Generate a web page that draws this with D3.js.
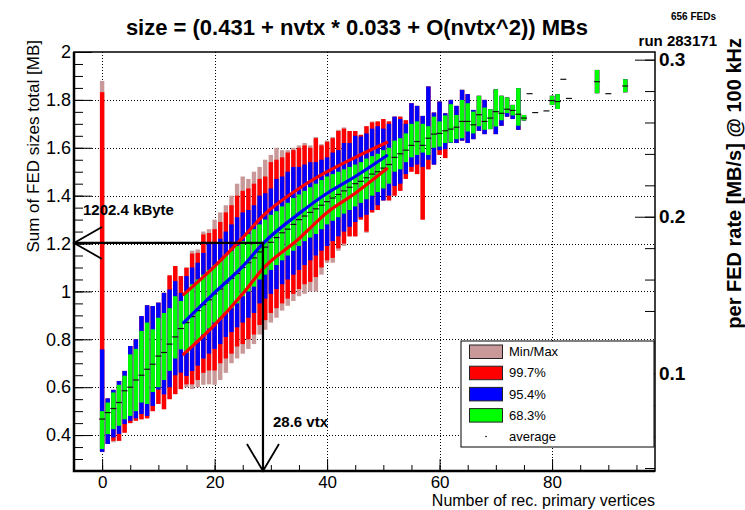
<!DOCTYPE html>
<html>
<head>
<meta charset="utf-8">
<script src="https://cdn.jsdelivr.net/npm/d3@7"></script>
<style>
  body { margin: 0; background: #fff; }
  svg { display: block; font-family: "Liberation Sans", Arial, sans-serif; }
</style>
</head>
<body>
<svg></svg>
<script>
const width = 745;
const height = 510;
const svg = d3.select("svg").attr("width", width).attr("height", height);

// number of reconstructed primary vertices (one candle per bin)
const nvtx = [0, 1, 2, 3, 4, 5, 6, 7, 8, 9, 10, 11, 12, 13, 14, 15, 16, 17, 18, 19,
  20, 21, 22, 23, 24, 25, 26, 27, 28, 29, 30, 31, 32, 33, 34, 35, 36, 37, 38, 39,
  40, 41, 42, 43, 44, 45, 46, 47, 48, 49, 50, 51, 52, 53, 54, 55, 56, 57, 58, 59,
  60, 61, 62, 63, 64, 65, 66, 67, 68, 69, 70, 71, 72, 73, 74, 75, 76, 77, 78, 79,
  80, 81, 82, 83, 84, 85, 86, 87, 88, 89, 90, 91, 92, 93];

// total size [MB] per bin : min/max, 99.7%, 95.4%, 68.3% bands and average
const sizeMin = [0.33, 0.363, 0.37, 0.375, 0.41, 0.45, 0.46, 0.466, 0.47, 0.50, 0.53, 0.508, 0.55, 0.571, 0.592, 0.60, 0.592, 0.60, 0.61, 0.612,
  0.61, 0.63, 0.66, 0.70, 0.72, 0.74, 0.76, 0.78, 0.82, 0.84, 0.87, 0.89, 0.92, 0.94, 0.96, 0.98, 0.99, 1.00, 1.00, 1.07,
  1.12, 1.12, 1.17, 1.19, 1.23, 1.23, 1.30, 1.245, 1.33, 1.34, 1.38, 1.38, 1.40, 1.42, 1.47, 1.50, 1.49, 1.30, 1.51, 1.53,
  1.57, 1.557, 1.62, 1.62, 1.63, 1.62, 1.636, 1.671, 1.657, 1.678, 1.657, 1.692, 1.73, 1.72, 1.675, 1.714, 1.826, 1.747, null, 1.754,
  1.779, 1.762, 1.886, 1.806, null, null, null, null, 1.828, null, 1.826, null, null, 1.832];
const size997Lo = [0.33, 0.363, 0.376, 0.376, 0.41, 0.45, 0.46, 0.466, 0.47, 0.50, 0.53, 0.508, 0.55, 0.571, 0.592, 0.612, 0.612, 0.63, 0.66, 0.67,
  0.67, 0.70, 0.72, 0.74, 0.77, 0.78, 0.80, 0.82, 0.86, 0.88, 0.91, 0.93, 0.95, 0.97, 0.99, 1.01, 1.03, 1.04, 1.06, 1.10,
  1.13, 1.14, 1.18, 1.20, 1.23, 1.23, 1.30, 1.25, 1.33, 1.34, 1.38, 1.38, 1.40, 1.42, 1.47, 1.50, 1.49, 1.30, 1.51, 1.53,
  1.57, 1.557, 1.62, 1.62, 1.63, 1.62, 1.636, 1.671, 1.657, 1.678, 1.657, 1.692, 1.73, 1.72, 1.675, 1.714, 1.826, 1.747, null, 1.754,
  1.779, 1.762, 1.886, 1.806, null, null, null, null, 1.828, null, 1.826, null, null, 1.832];
const size954Lo = [0.33, 0.363, 0.39, 0.405, 0.446, 0.46, 0.47, 0.488, 0.48, 0.522, 0.59, 0.57, 0.60, 0.65, 0.661, 0.647, 0.668, 0.69, 0.72, 0.74,
  0.76, 0.78, 0.81, 0.83, 0.85, 0.87, 0.89, 0.91, 0.95, 0.97, 0.99, 1.01, 1.03, 1.05, 1.07, 1.09, 1.11, 1.13, 1.15, 1.17,
  1.19, 1.21, 1.23, 1.25, 1.27, 1.29, 1.31, 1.32, 1.34, 1.36, 1.38, 1.40, 1.44, 1.45, 1.49, 1.52, 1.53, 1.52, 1.55, 1.53,
  1.59, 1.594, 1.62, 1.62, 1.63, 1.62, 1.636, 1.671, 1.657, 1.678, 1.657, 1.692, 1.73, 1.72, 1.675, 1.714, 1.826, 1.747, null, 1.754,
  1.779, 1.762, 1.886, 1.806, null, null, null, null, 1.828, null, 1.826, null, null, 1.832];
const size683Lo = [0.342, 0.404, 0.425, 0.439, 0.466, 0.48, 0.50, 0.536, 0.53, 0.58, 0.60, 0.63, 0.668, 0.72, 0.758, 0.744, 0.77, 0.79, 0.82, 0.845,
  0.87, 0.89, 0.91, 0.93, 0.95, 0.98, 1.00, 1.02, 1.05, 1.07, 1.09, 1.11, 1.13, 1.15, 1.17, 1.19, 1.21, 1.225, 1.24, 1.26,
  1.28, 1.295, 1.31, 1.325, 1.34, 1.355, 1.37, 1.385, 1.40, 1.415, 1.43, 1.45, 1.50, 1.51, 1.54, 1.56, 1.57, 1.58, 1.57, 1.60,
  1.605, 1.62, 1.622, 1.636, 1.64, 1.668, 1.66, 1.69, 1.675, 1.678, 1.689, 1.715, 1.745, 1.735, 1.692, 1.714, 1.826, 1.747, null, 1.754,
  1.779, 1.762, 1.886, 1.806, null, null, null, null, 1.828, null, 1.826, null, null, 1.832];
const sizeAvg = [0.467, 0.494, 0.511, 0.536, 0.585, 0.60, 0.63, 0.65, 0.675, 0.696, 0.73, 0.745, 0.78, 0.81, 0.845, 0.87, 0.895, 0.92, 0.945, 0.965,
  0.99, 1.01, 1.035, 1.055, 1.075, 1.10, 1.12, 1.14, 1.165, 1.185, 1.205, 1.225, 1.245, 1.26, 1.28, 1.30, 1.315, 1.33, 1.345, 1.36,
  1.375, 1.39, 1.405, 1.42, 1.435, 1.45, 1.46, 1.475, 1.49, 1.50, 1.515, 1.53, 1.56, 1.575, 1.59, 1.61, 1.626, 1.61, 1.64, 1.657,
  1.66, 1.671, 1.678, 1.686, 1.71, 1.71, 1.696, 1.738, 1.71, 1.724, 1.751, 1.744, 1.761, 1.756, 1.74, 1.724, 1.826, 1.747, null, 1.754,
  1.797, 1.793, 1.886, 1.806, null, null, null, null, 1.876, null, 1.826, null, null, 1.858];
const size683Hi = [0.50, 0.536, 0.578, 0.61, 0.648, 0.737, 0.76, 0.835, 0.87, 0.842, 0.89, 0.91, 0.93, 0.98, 0.96, 1.00, 1.03, 1.05, 1.07, 1.09,
  1.11, 1.13, 1.15, 1.17, 1.19, 1.21, 1.24, 1.26, 1.28, 1.30, 1.32, 1.335, 1.355, 1.37, 1.39, 1.405, 1.42, 1.435, 1.45, 1.465,
  1.48, 1.49, 1.50, 1.51, 1.52, 1.53, 1.54, 1.555, 1.565, 1.575, 1.59, 1.60, 1.63, 1.64, 1.66, 1.70, 1.71, 1.70, 1.69, 1.73,
  1.71, 1.735, 1.782, 1.737, 1.80, 1.786, 1.751, 1.817, 1.768, 1.761, 1.844, 1.817, 1.81, 1.779, 1.849, 1.737, 1.826, 1.747, null, 1.754,
  1.817, 1.824, 1.886, 1.806, null, null, null, null, 1.925, null, 1.826, null, null, 1.886];
const size954Hi = [0.758, 0.553, 0.589, 0.626, 0.668, 0.772, 0.80, 0.897, 0.942, 0.939, 0.953, 0.994, 1.008, 1.043, 0.994, 1.064, 1.10, 1.12, 1.161, 1.20,
  1.20, 1.22, 1.25, 1.28, 1.31, 1.33, 1.34, 1.36, 1.40, 1.41, 1.43, 1.47, 1.48, 1.50, 1.52, 1.52, 1.53, 1.54, 1.54, 1.55,
  1.56, 1.58, 1.59, 1.62, 1.62, 1.65, 1.647, 1.66, 1.68, 1.69, 1.68, 1.70, 1.73, 1.72, 1.70, 1.786, 1.775, 1.733, 1.856, 1.747,
  1.793, 1.744, 1.80, 1.775, 1.842, 1.824, 1.758, 1.817, 1.80, 1.761, 1.844, 1.817, 1.81, 1.779, 1.849, 1.737, 1.826, 1.747, null, 1.754,
  1.817, 1.824, 1.886, 1.806, null, null, null, null, 1.925, null, 1.826, null, null, 1.886];
const size997Hi = [1.832, 0.553, 0.589, 0.626, 0.668, 0.772, 0.80, 0.897, 0.942, 0.939, 0.953, 0.994, 1.067, 1.106, 1.064, 1.099, 1.158, 1.161, 1.238, 1.244,
  1.26, 1.29, 1.33, 1.36, 1.40, 1.42, 1.43, 1.45, 1.47, 1.48, 1.54, 1.55, 1.56, 1.58, 1.59, 1.60, 1.61, 1.60, 1.64, 1.61,
  1.625, 1.64, 1.67, 1.68, 1.67, 1.67, 1.654, 1.69, 1.706, 1.71, 1.72, 1.71, 1.73, 1.73, 1.715, 1.786, 1.775, 1.733, 1.856, 1.747,
  1.793, 1.744, 1.80, 1.775, 1.842, 1.824, 1.758, 1.817, 1.80, 1.761, 1.844, 1.817, 1.81, 1.779, 1.849, 1.737, 1.826, 1.747, null, 1.754,
  1.817, 1.824, 1.886, 1.806, null, null, null, null, 1.925, null, 1.826, null, null, 1.886];
const sizeMax = [1.879, 0.553, 0.589, 0.626, 0.668, 0.772, 0.80, 0.897, 0.942, 0.939, 0.953, 0.994, 1.067, 1.106, 1.064, 1.10, 1.17, 1.175, 1.25, 1.26,
  1.30, 1.33, 1.36, 1.40, 1.45, 1.48, 1.47, 1.50, 1.52, 1.55, 1.57, 1.60, 1.59, 1.59, 1.60, 1.61, 1.62, 1.61, 1.645, 1.615,
  1.63, 1.645, 1.675, 1.685, 1.67, 1.67, 1.654, 1.69, 1.71, 1.71, 1.72, 1.71, 1.73, 1.73, 1.715, 1.786, 1.775, 1.733, 1.856, 1.747,
  1.793, 1.744, 1.80, 1.775, 1.842, 1.824, 1.758, 1.817, 1.80, 1.761, 1.844, 1.817, 1.81, 1.779, 1.849, 1.737, 1.826, 1.747, null, 1.754,
  1.817, 1.824, 1.886, 1.806, null, null, null, null, 1.925, null, 1.826, null, null, 1.886];

// fit curves drawn over the candles: [nvtx, size]
const fitMean = [[14.5, 0.870], [20, 0.995], [25, 1.105], [28.6, 1.20], [35, 1.325], [40, 1.41], [45, 1.48], [50.6, 1.567]];
const fitUpper = [[14.5, 0.9875], [20, 1.105], [25, 1.225], [28.6, 1.316], [35, 1.43], [40, 1.50], [45, 1.56], [50.6, 1.622]];
const fitLower = [[14.5, 0.738], [20, 0.86], [25, 0.99], [28.6, 1.095], [35, 1.22], [40, 1.33], [45, 1.41], [50.6, 1.512]];

// working point marked by the arrows
const markNvtx = 28.6;
const markSize = 1.2024;
const nFEDs = 656;
const rateKHz = 100;

const legendLabels = ["Min/Max", "99.7%", "95.4%", "68.3%", "average"];
const bandColors = ["#c99898", "#ff0000", "#0000ff", "#00ff00"];

const x0 = 74, x1 = 655, y0 = 52, y1 = 471;
const x = d3.scaleLinear().domain([-5, 98.3]).range([x0, x1]);
const y = d3.scaleLinear().domain([0.25, 2]).range([y1, y0]);
const yRate = d3.scaleLinear().domain(y.domain().map(d => d * rateKHz / nFEDs)).range([y1, y0]);

// grid
const grid = svg.append("g").attr("stroke", "#000").attr("stroke-width", 1).attr("stroke-dasharray", "1,2");
grid.selectAll(".gx").data([0, 20, 40, 60, 80]).join("line")
  .attr("x1", d => Math.round(x(d)) + 0.5).attr("x2", d => Math.round(x(d)) + 0.5)
  .attr("y1", y0).attr("y2", y1);
grid.selectAll(".gy").data([0.4, 0.6, 0.8, 1, 1.2, 1.4, 1.6, 1.8]).join("line")
  .attr("x1", x0).attr("x2", x1)
  .attr("y1", d => Math.round(y(d)) + 0.5).attr("y2", d => Math.round(y(d)) + 0.5);

// candles
const cols = nvtx.map((n, i) => ({
  n, bands: [[sizeMin[i], sizeMax[i]], [size997Lo[i], size997Hi[i]], [size954Lo[i], size954Hi[i]], [size683Lo[i], size683Hi[i]]],
  avg: sizeAvg[i]
})).filter(d => d.avg !== null);

const bw = 4.4;
const candles = svg.append("g");
bandColors.forEach((c, k) => {
  candles.selectAll(".b" + k).data(cols.filter(d => d.bands[k][1] > d.bands[k][0])).join("rect")
    .attr("x", d => x(d.n) - bw / 2)
    .attr("width", bw)
    .attr("y", d => y(d.bands[k][1]))
    .attr("height", d => y(d.bands[k][0]) - y(d.bands[k][1]))
    .attr("fill", c);
});
candles.selectAll(".avg").data(cols).join("line")
  .attr("x1", d => x(d.n) - 3).attr("x2", d => x(d.n) + 3)
  .attr("y1", d => y(d.avg)).attr("y2", d => y(d.avg))
  .attr("stroke", "#111").attr("stroke-width", 1.2);

// fit curves
const line = d3.line().curve(d3.curveMonotoneX).x(d => x(d[0])).y(d => y(d[1]));
[[fitUpper, "#ff0000"], [fitLower, "#ff0000"], [fitMean, "#0000ff"]].forEach(([pts, c]) => {
  svg.append("path").datum(pts).attr("d", line).attr("fill", "none")
    .attr("stroke", c).attr("stroke-width", 3.2).attr("stroke-linecap", "round");
});

// axes (ticks point into the frame)
const axisLeft = svg.append("g").attr("transform", `translate(${x0},0)`)
  .call(d3.axisLeft(y).tickValues([0.4, 0.6, 0.8, 1, 1.2, 1.4, 1.6, 1.8, 2]).tickSize(-18).tickPadding(3).tickFormat(d3.format("~g")));
svg.append("g").attr("transform", `translate(${x0},0)`)
  .call(d3.axisLeft(y).tickValues(d3.range(0.3, 2.0, 0.05)).tickSize(-9).tickFormat(""));
const axisBottom = svg.append("g").attr("transform", `translate(0,${y1})`)
  .call(d3.axisBottom(x).tickValues([0, 20, 40, 60, 80]).tickSize(-12).tickPadding(5));
svg.append("g").attr("transform", `translate(0,${y1})`)
  .call(d3.axisBottom(x).tickValues(d3.range(-5, 98, 5)).tickSize(-6).tickFormat(""));
const axisRight = svg.append("g").attr("transform", `translate(${x1},0)`)
  .call(d3.axisRight(yRate).tickValues([0.1, 0.2, 0.3]).tickSize(-20).tickPadding(4).tickFormat(d3.format(".1f")));
svg.append("g").attr("transform", `translate(${x1},0)`)
  .call(d3.axisRight(yRate).tickValues(d3.range(0.04, 0.305, 0.02)).tickSize(-10).tickFormat(""));

svg.selectAll(".domain").remove();
svg.selectAll(".tick line").attr("stroke", "#000");
axisLeft.selectAll("text").attr("font-size", 18).attr("fill", "#000");
axisBottom.selectAll("text").attr("font-size", 17).attr("fill", "#000");
axisRight.selectAll("text").attr("font-size", 19).attr("font-weight", "bold").attr("fill", "#000");

// frame
svg.append("rect").attr("x", x0).attr("y", y0).attr("width", x1 - x0).attr("height", y1 - y0)
  .attr("fill", "none").attr("stroke", "#000").attr("stroke-width", 1.5);
svg.append("path").attr("d", `M${x0},${y0}V${y1}H${x1}`).attr("fill", "none").attr("stroke", "#000").attr("stroke-width", 2.5);

// arrows marking the working point
const arrows = svg.append("g").attr("stroke", "#000").attr("fill", "none");
arrows.append("path").attr("stroke-width", 2.2)
  .attr("d", `M${x0},${y(markSize)}H${x(markNvtx)}V${y1}`);
arrows.append("path").attr("stroke-width", 1.8)
  .attr("d", `M${x0 + 28},${y(markSize) - 16}L${x0},${y(markSize)}L${x0 + 28},${y(markSize) + 16}`);
arrows.append("path").attr("stroke-width", 1.8)
  .attr("d", `M${x(markNvtx) - 16},${y1 - 27}L${x(markNvtx)},${y1}L${x(markNvtx) + 16},${y1 - 27}`);
svg.append("text").attr("x", 83).attr("y", 215).attr("font-size", 15).attr("font-weight", "bold")
  .text(`${(markSize * 1000).toFixed(1)} kByte`);
svg.append("text").attr("x", 273).attr("y", 427).attr("font-size", 15).attr("font-weight", "bold")
  .text(`${markNvtx} vtx`);

// legend
const lg = svg.append("g").attr("transform", "translate(461,341)");
lg.append("rect").attr("width", 193).attr("height", 106).attr("fill", "#fff").attr("stroke", "#000").attr("stroke-width", 1);
lg.selectAll(".sw").data(bandColors).join("rect")
  .attr("x", 8.5).attr("y", (d, i) => 4 + i * 21.2).attr("width", 33).attr("height", 13.5)
  .attr("fill", d => d).attr("stroke", "#222").attr("stroke-width", 1);
lg.append("circle").attr("cx", 25).attr("cy", 95.5).attr("r", 0.8).attr("fill", "#000");
lg.selectAll(".lt").data(legendLabels).join("text")
  .attr("x", 48).attr("y", (d, i) => 15.2 + i * 21.2).attr("font-size", 13).text(d => d);

// titles
svg.append("text").attr("x", 357).attr("y", 35).attr("text-anchor", "middle")
  .attr("font-size", 22).attr("font-weight", "bold")
  .text("size = (0.431 + nvtx * 0.033 + O(nvtx^2)) MBs");
svg.append("text").attr("x", 716).attr("y", 20).attr("text-anchor", "end")
  .attr("font-size", 10).attr("font-weight", "bold").text(`${nFEDs} FEDs`);
svg.append("text").attr("x", 717).attr("y", 46).attr("text-anchor", "end")
  .attr("font-size", 15).attr("font-weight", "bold").text("run 283171");
svg.append("text").attr("transform", `translate(39,${y0 - 12}) rotate(-90)`).attr("text-anchor", "end")
  .attr("font-size", 17).text("Sum of FED sizes total [MB]");
svg.append("text").attr("transform", `translate(741,${y0 - 14}) rotate(-90)`).attr("text-anchor", "end")
  .attr("font-size", 20).attr("font-weight", "bold").text(`per FED rate [MB/s] @ ${rateKHz} kHz`);
svg.append("text").attr("x", x1).attr("y", 506).attr("text-anchor", "end")
  .attr("font-size", 16).text("Number of rec. primary vertices");
</script>
</body>
</html>
